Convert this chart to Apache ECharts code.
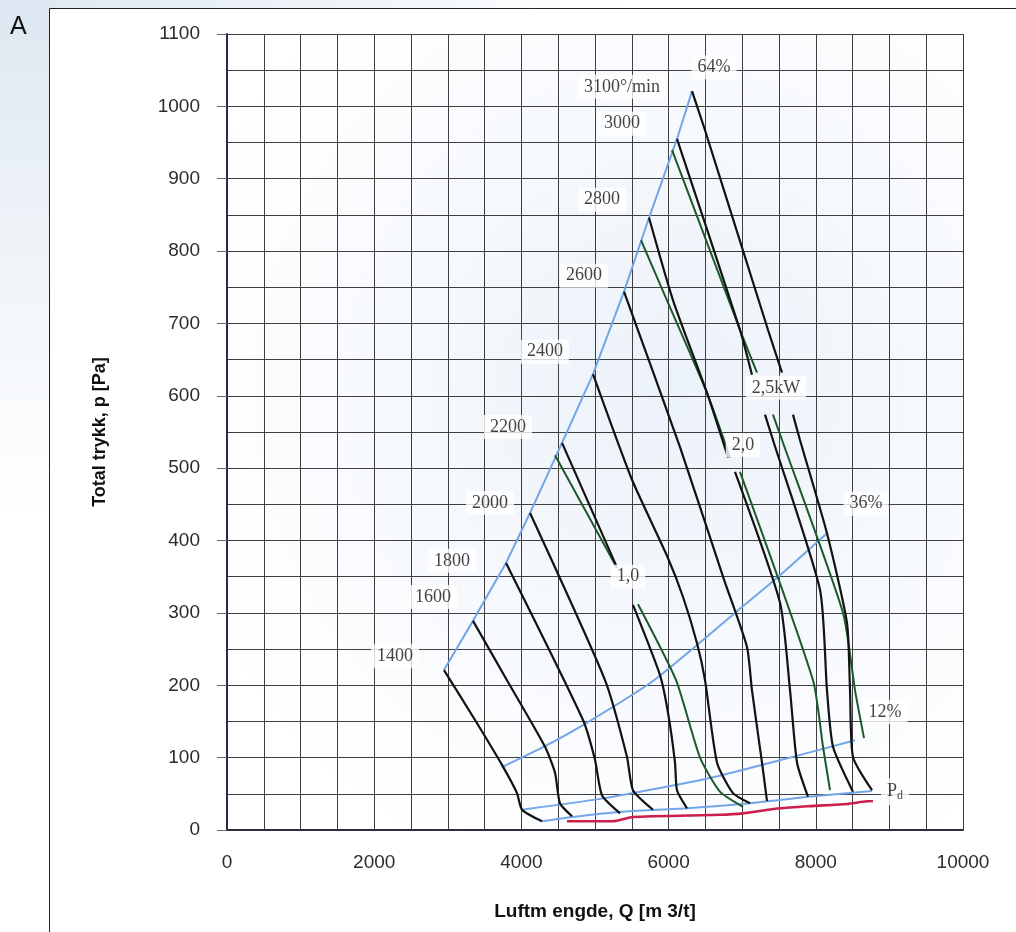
<!DOCTYPE html>
<html><head><meta charset="utf-8">
<script src="https://cdn.jsdelivr.net/npm/echarts@6/dist/echarts.min.js"></script>
<style>html,body{margin:0;padding:0;background:#fff}#c{width:1016px;height:932px}</style>
</head><body><div id="c"></div>
<script>
// ---- data: Q [m3/t], p [Pa] ----
const xTickLabels = [0, 2000, 4000, 6000, 8000, 10000];
const yTickLabels = [0,100,200,300,400,500,600,700,800,900,1000,1100];

// speed curves (black), null = gap behind a label
const n1400 = [[2948,221],[3370,152],[3736,90],[3940,51],[4008,28],[4280,12]];
const n1600 = [[3342,289],[3804,207],[4321,115],[4457,79],[4524,37],[4688,19]];
const n1800 = [[3791,369],[4837,152],[5000,97],[5095,48],[5340,23]];
const n2000 = [[4117,438],[5136,207],[5435,101],[5516,55],[5788,28]];
const n2200 = [[4552,535],[5285,366],null,[5516,311],[5883,214],[5992,162],[6087,93],[6114,55],[6250,30]];
const n2400 = [[4973,630],[5503,484],[5978,379],[6196,322],[6386,258],[6495,207],[6658,93],[6875,51],[7106,37]];
const n2600 = [[5394,744],[6155,529],[6753,346],[7065,253],[7133,193],[7269,93],[7337,40]];
const n2800 = [[5734,846],[6060,732],[6522,604],[6807,515],null,[6902,495],[7514,314],[7650,193],[7745,93],[7894,46]];
const n3000 = [[6114,955],[6970,691],[7133,629],null,[7310,574],[7418,539],[8057,332],[8152,193],[8234,115],[8505,53]];
const n3100 = [[6318,1021],[6495,967],[7351,691],[7541,632],null,[7690,574],[7785,539],[8152,410],[8424,286],[8465,193],[8505,101],[8764,55]];

// power curves (green)
const p10 = [[4457,518],[5299,362],null,[5584,312],[6101,207],[6427,100],[6698,53],[7011,32]];
const p20 = [[5625,815],[5978,732],[6522,604],[6834,515],null,[6970,495],[7962,207],[8098,115],[8193,55]];
const p25 = [[6046,940],[6970,691],[7201,632],null,[7418,574],[7541,539],[8370,300],[8533,193],[8655,127]];

// efficiency / envelope lines (blue)
const env64 = [[2948,221],[3342,289],[3791,369],[4117,438],[4552,535],[4973,630],[5394,744],[5734,846],[6114,955],[6318,1021]];
const eff36 = [[3736,87],[4321,116],[4837,145],[5788,206],[6902,300],[7514,352],[8152,410]];
const eff12 = [[4008,28],[5068,43],[5883,58],[6698,75],[7650,100],[8533,124]];
const pdLine = [[4280,12],[4688,18],[5340,25],[6250,30],[7106,37],[7894,46],[8764,54]];

// red curve
const redLine = [[4620,12],[5245,12],[5516,18],[6698,21],[7011,23],[7514,30],[7921,33],[8424,36],[8641,39],[8777,40]];

// chart labels
const labelText = ['64%','3100°/min','3000','2800','2600','2400','2200','2000','1800','1600','1400','2,5kW','2,0','1,0','36%','12%','Pd'];
const labelQ = [6617,5367,5367,5095,4851,4321,3818,3573,3057,2799,2283,7459,7011,5448,8682,8940,9076];
const labelP = [1054,1027,976,871,766,661,557,452,372,322,240,611,532,350,451,163,53];

// ---- build ----
const toData = arr => arr.map(p => p === null ? '-' : p);
const BLACK = '#121212', GREEN = '#1d5a2b', BLUE = '#72a6e8', RED = '#cc1f4e';
function lineSeries(arr, color, width, z, smooth) {
  return { type:'line', data: toData(arr), showSymbol:false, symbol:'none', smooth:smooth,
    connectNulls:false, lineStyle:{color:color, width:width}, z:z, silent:true };
}
const series = [];
series.push(lineSeries(env64, BLUE, 2, 2, false));
[eff36, eff12, pdLine].forEach(a => series.push(lineSeries(a, BLUE, 2, 2, 0.2)));
series.push(lineSeries(redLine, RED, 2.6, 2, 0.2));
[p10, p20, p25].forEach(a => series.push(lineSeries(a, GREEN, 2, 3, 0.2)));
[n1400,n1600,n1800,n2000,n2200,n2400,n2600,n2800,n3000,n3100].forEach(a => series.push(lineSeries(a, BLACK, 2.2, 4, 0.2)));

series.push({
  type:'scatter', symbolSize:1, itemStyle:{color:'rgba(0,0,0,0)'}, z:10, silent:true,
  data: labelText.map((t,i) => ({name:t, value:[labelQ[i], labelP[i]]})),
  label:{ show:true, position:'inside', color:'#111',
    fontFamily:'Liberation Serif', fontSize:18, backgroundColor:'#fff', padding:[3,6],
    formatter: p => p.name === 'Pd' ? '{p|P}{d|d}' : p.name,
    rich:{ p:{fontFamily:'Liberation Serif', fontSize:18, color:'#111'},
           d:{fontFamily:'Liberation Serif', fontSize:12, color:'#111', padding:[9,0,0,0]} } }
});

const chart = echarts.init(document.getElementById('c'));
const gridColor = '#3f3f3f';
chart.setOption({
  animation:false,
  backgroundColor:'#fff',
  graphic:[
    {type:'rect', z:-10, shape:{x:0,y:0,width:49,height:932},
     style:{fill:new echarts.graphic.LinearGradient(0,0,0,1,[{offset:0,color:'#dde7f1'},{offset:0.25,color:'#eef3f8'},{offset:0.55,color:'#ffffff'}])}},
    {type:'rect', z:-10, shape:{x:49,y:0,width:967,height:8},
     style:{fill:new echarts.graphic.LinearGradient(0,0,1,0,[{offset:0,color:'#e0e9f2'},{offset:0.6,color:'#ffffff'}])}},
    {type:'rect', z:-5, shape:{x:49.5,y:8.5,width:1000,height:1000}, style:{fill:'none', stroke:'#222', lineWidth:1}},
    {type:'text', left:10, top:15, style:{text:'A', font:'25px "Liberation Sans"', fill:'#111'}}
  ],
  grid:{ left:227, top:34, width:736, height:796, show:true, borderWidth:0,
    backgroundColor:new echarts.graphic.RadialGradient(0.6,0.45,0.7,[{offset:0,color:'#ecf2fa'},{offset:1,color:'#ffffff'}]) },
  xAxis:{ type:'value', min:xTickLabels[0], max:xTickLabels[xTickLabels.length-1], interval:2000,
    axisLine:{show:true, onZero:false, lineStyle:{color:'#2e2e3e', width:2}},
    axisTick:{show:false},
    axisLabel:{ margin:23, color:'#2b2b2b', fontFamily:'Liberation Sans', fontSize:19, formatter: v => String(v) },
    splitLine:{show:true, lineStyle:{color:gridColor, width:1}},
    minorTick:{show:false, splitNumber:4},
    minorSplitLine:{show:true, lineStyle:{color:gridColor, width:1}},
    name:'Luftm engde, Q [m 3/t]', nameLocation:'middle', nameGap:72,
    nameTextStyle:{fontFamily:'Liberation Sans', fontWeight:'bold', fontSize:19, color:'#111'} },
  yAxis:{ type:'value', min:yTickLabels[0], max:yTickLabels[yTickLabels.length-1], interval:100,
    axisLine:{show:true, onZero:false, lineStyle:{color:'#2a2a48', width:2}},
    axisTick:{show:true, inside:false, length:10, lineStyle:{color:'#666'}},
    axisLabel:{ margin:27, color:'#2b2b2b', fontFamily:'Liberation Sans', fontSize:19, formatter: v => String(v) },
    splitLine:{show:true, lineStyle:{color:gridColor, width:1}},
    minorTick:{show:false, splitNumber:2},
    minorSplitLine:{show:true, lineStyle:{color:gridColor, width:1}},
    name:'Total trykk, p [Pa]', nameLocation:'middle', nameGap:118, nameRotate:90,
    nameTextStyle:{fontFamily:'Liberation Sans', fontWeight:'bold', fontSize:18, color:'#111'} },
  series: series
});
</script></body></html>
